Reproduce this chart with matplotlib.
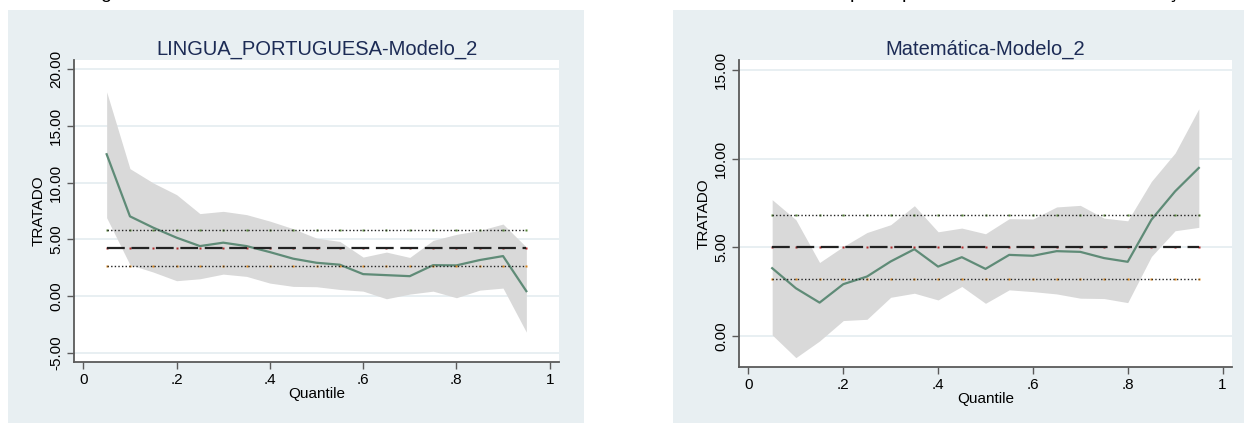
import numpy as np
import matplotlib
matplotlib.use("Agg")
import matplotlib.pyplot as plt
from matplotlib.patches import Rectangle
from matplotlib.ticker import FuncFormatter

plt.rcParams['font.family'] = ['Liberation Sans', 'DejaVu Sans']

# quantiles
quantiles = [0.05, 0.10, 0.15, 0.20, 0.25, 0.30, 0.35, 0.40, 0.45, 0.50,
             0.55, 0.60, 0.65, 0.70, 0.75, 0.80, 0.85, 0.90, 0.95]

# LINGUA_PORTUGUESA-Modelo_2
lp_coef = [12.5, 7.03, 6.03, 5.15, 4.41, 4.71, 4.41, 3.88, 3.30, 2.94,
           2.77, 1.94, 1.85, 1.76, 2.73, 2.71, 3.18, 3.53, 0.44]
lp_upper = [18.0, 11.23, 9.97, 8.94, 7.27, 7.47, 7.18, 6.61, 5.94, 5.11,
            4.82, 3.44, 3.88, 3.41, 4.91, 5.44, 5.79, 6.35, 4.32]
lp_lower = [6.91, 2.77, 2.12, 1.36, 1.53, 1.94, 1.74, 1.15, 0.86, 0.83,
            0.59, 0.44, -0.23, 0.18, 0.44, -0.14, 0.53, 0.71, -3.17]
lp_ols = [2.62, 4.23, 5.85]  # lower CI, estimate, upper CI

# Matemática-Modelo_2
mt_coef = [3.82, 2.69, 1.88, 2.92, 3.35, 4.20, 4.89, 3.91, 4.44, 3.78,
           4.57, 4.52, 4.78, 4.74, 4.39, 4.18, 6.55, 8.15, 9.47]
mt_upper = [7.68, 6.55, 4.14, 5.04, 5.83, 6.27, 7.34, 5.87, 6.08, 5.76,
            6.61, 6.59, 7.27, 7.36, 6.64, 6.49, 8.71, 10.31, 12.80]
mt_lower = [0.06, -1.22, -0.28, 0.87, 0.94, 2.18, 2.41, 2.03, 2.79, 1.84,
            2.60, 2.50, 2.37, 2.13, 2.11, 1.88, 4.48, 5.93, 6.12]
mt_ols = [3.20, 4.99, 6.81]

x_ticks = [0, 0.2, 0.4, 0.6, 0.8, 1]
x_ticklabels = ['0', '.2', '.4', '.6', '.8', '1']

bg = '#e8eff2'
grid_c = '#e6eef1'
line_c = '#5f8b77'
band_c = '#d9d9d9'
axis_c = '#5a5a5a'

W, H = 1244, 423
fig = plt.figure(figsize=(W / 100, H / 100), dpi=100)
fig.patch.set_facecolor('white')

# panel backgrounds (pixel boxes), kept behind the axes
for x0, x1 in [(8, 584), (673, 1244)]:
    fig.patches.append(Rectangle((x0 / W, 0), (x1 - x0) / W, (H - 10) / H,
                                 transform=fig.transFigure, facecolor=bg,
                                 edgecolor='none', zorder=-5))

# clipped text fragments at the very top
for px, ch in [(106, 'g'), (855, 'p'), (907, 'p'), (1172, 'ç')]:
    fig.text(px / W, 1 + 1.5 / H, ch, fontsize=14, ha='center', va='baseline')


def panel(rect, title, coef, lower, upper, ols, ylim, yticks):
    ax = fig.add_axes(rect)
    ax.set_facecolor('white')
    ax.fill_between(quantiles, lower, upper, color=band_c, lw=0, zorder=1)
    ax.plot(quantiles, coef, color=line_c, lw=1.6, zorder=3)
    n = len(quantiles)
    marker_cols = ['#e08a1e', '#b02a2a', '#5a8a3a']
    styles = [(0, (1, 1.6)), (0, (8, 3)), (0, (1, 1.6))]
    widths = [1.0, 1.6, 1.0]
    for val, mc, ls, lw in zip(ols, marker_cols, styles, widths):
        ax.plot(quantiles, [val] * n, ls='none', marker='s', ms=2,
                mfc=mc, mec='none', zorder=4)
        ax.plot(quantiles, [val] * n, color='#222222', ls=ls, lw=lw, zorder=5)
    ax.set_xlim(-0.02, 1.02)
    ax.set_ylim(*ylim)
    ax.set_xticks(x_ticks)
    ax.set_xticklabels(x_ticklabels)
    ax.set_yticks(yticks)
    ax.yaxis.set_major_formatter(FuncFormatter(lambda v, p: '%.2f' % v))
    for lbl in ax.get_yticklabels():
        lbl.set_rotation(90)
        lbl.set_va('center')
    ax.grid(axis='y', color=grid_c, lw=1.3, zorder=0)
    ax.set_axisbelow(True)
    for s in ['top', 'right']:
        ax.spines[s].set_visible(False)
    for s in ['left', 'bottom']:
        ax.spines[s].set_color(axis_c)
        ax.spines[s].set_linewidth(1.3)
    ax.tick_params(direction='out', length=5, width=1, color=axis_c,
                   labelsize=11, pad=3)
    ax.set_xlabel('Quantile', fontsize=11, labelpad=0)
    ax.set_ylabel('TRATADO', fontsize=11, labelpad=2)
    ax.set_title(title, fontsize=14.5, color='#1c2b55', pad=4)
    return ax


panel([74 / W, (H - 362) / H, 485 / W, 302 / H], 'LINGUA_PORTUGUESA-Modelo_2',
      lp_coef, lp_lower, lp_upper, lp_ols, (-5.8, 20.8),
      [-5, 0, 5, 10, 15, 20])
panel([739 / W, (H - 366.7) / H, 493 / W, 306.7 / H], 'Matemática-Modelo_2',
      mt_coef, mt_lower, mt_upper, mt_ols, (-1.73, 15.55),
      [0, 5, 10, 15])

fig.savefig('out.png', dpi=100)
